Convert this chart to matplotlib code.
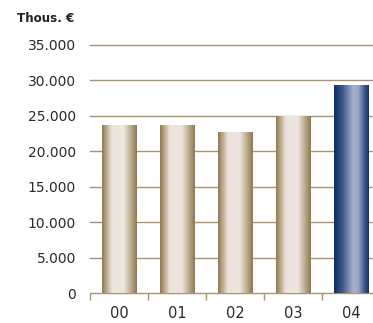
import numpy as np
import matplotlib.pyplot as plt
from matplotlib.colors import LinearSegmentedColormap

# Revenue per year, thousands of euros
years = ['00', '01', '02', '03', '04']
values = [23700, 23700, 22700, 25000, 29350]
yticks = [0, 5000, 10000, 15000, 20000, 25000, 30000, 35000]
ytick_labels = ['0', '5.000', '10.000', '15.000', '20.000', '25.000', '30.000', '35.000']

grid_color = '#a8956f'
tan = LinearSegmentedColormap.from_list('tan', [
    (0.0, '#8e7850'), (0.12, '#b9a585'), (0.28, '#ebe3dc'),
    (0.62, '#ede6e0'), (0.78, '#c9b9a0'), (1.0, '#8e7850')])
navy = LinearSegmentedColormap.from_list('navy', [
    (0.0, '#0a2e62'), (0.25, '#3f5a8d'), (0.55, '#a7b1cd'),
    (0.7, '#9aa6c6'), (0.88, '#3c5688'), (1.0, '#0c3266')])

fig = plt.figure(figsize=(3.73, 3.23), dpi=100)
ax = fig.add_axes([90 / 373, 29.7 / 323, 283 / 373, 248.3 / 323])

bars = ax.bar(range(len(years)), values, width=0.6, color='none', zorder=3)

# fill each bar with a horizontal shading gradient
grad = np.linspace(0, 1, 256).reshape(1, -1)
for i, b in enumerate(bars):
    x0, w, h = b.get_x(), b.get_width(), b.get_height()
    cmap = navy if i == len(bars) - 1 else tan
    im = ax.imshow(grad, cmap=cmap, aspect='auto', extent=(x0, x0 + w, 0, h),
                   zorder=3, interpolation='bilinear')
    im.set_clip_path(b)

ax.set_xlim(-0.5, 4.38)
ax.set_ylim(0, 35000)

for y in yticks[1:]:
    ax.axhline(y, color=grid_color, lw=1.0, zorder=1, clip_on=False)

for s in ['top', 'right', 'left']:
    ax.spines[s].set_visible(False)
ax.spines['bottom'].set_color(grid_color)
ax.spines['bottom'].set_linewidth(1.0)

ax.set_yticks(yticks)
ax.set_yticklabels(ytick_labels)
ax.tick_params(axis='y', length=0, pad=10, labelsize=10, labelcolor='#2a2a2a')

# category labels at centers, tick marks at category boundaries
ax.set_xticks(range(len(years)))
ax.set_xticklabels(years)
ax.tick_params(axis='x', which='major', length=0, pad=9, labelsize=10.5,
               labelcolor='#2a2a2a')
ax.set_xticks(np.arange(-0.5, 4.5, 1), minor=True)
ax.tick_params(axis='x', which='minor', length=5, width=1.0, color=grid_color,
               direction='out')

fig.text(17 / 373, 1 - 19 / 323, 'Thous. €', fontsize=8.6, fontweight='bold',
         color='#222222', va='center', ha='left')

fig.savefig('out.png', dpi=100)
